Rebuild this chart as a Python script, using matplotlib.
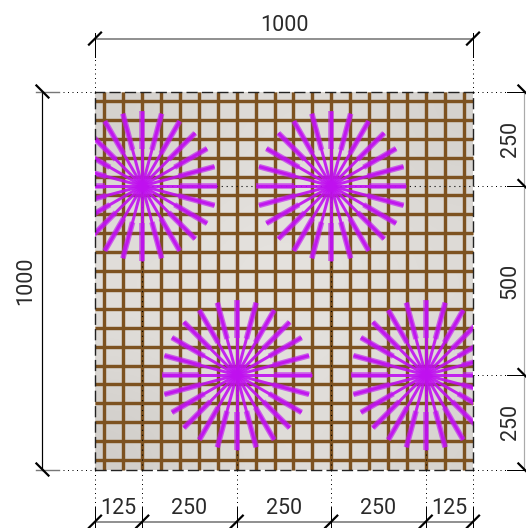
import numpy as np
import matplotlib
matplotlib.use("Agg")
import matplotlib.pyplot as plt

W, H = 526, 528
SCALE = 378 / 1000
X0, Y0 = 95, 469.5

side = 1000
bar_positions = [25 + 50 * i for i in range(20)]
star_x = [125, 625, 375, 875]
star_y = [750, 750, 250, 250]
ray_angles = [15 * i for i in range(24)]
ray_length = 198
x_chain = [0, 125, 375, 625, 875, 1000]
x_labels = ["125", "250", "250", "250", "125"]
y_chain = [0, 250, 750, 1000]
y_labels = ["250", "500", "250"]
background = [[212, 222, 224, 212],
              [224, 229, 229, 222],
              [226, 229, 229, 222],
              [208, 222, 224, 214]]

plt.rcParams["font.family"] = ["Roboto", "DejaVu Sans"]
fig = plt.figure(figsize=(W / 100, H / 100), dpi=100)
ax = fig.add_axes([0, 0, 1, 1])
ax.axis("off")
lw = 72 / 100

bg = np.array(background, float)
bg_rgb = np.dstack([bg / 255, (bg - 3) / 255, (bg - 7) / 255])
ax.imshow(bg_rgb, extent=[0, side, 0, side], origin="upper",
          interpolation="bicubic", aspect="auto", zorder=1)
ax.set_xlim(-X0 / SCALE, (W - X0) / SCALE)
ax.set_ylim(-(H - Y0) / SCALE, Y0 / SCALE)

brown = "#7d5220"
for p in bar_positions:
    for a, b in (([p, p], [0, side]), ([0, side], [p, p])):
        ax.plot(a, b, color=brown, alpha=0.2, lw=5 * lw, solid_capstyle="butt", zorder=2)
        ax.plot(a, b, color=brown, lw=3 * lw, solid_capstyle="butt", zorder=2.1)

# dotted centre lines, below the rays
dot = (0, (1, 3.5))
for x, y in zip(star_x, star_y):
    ax.plot([x, x], [0, y], color="k", lw=1.1 * lw, ls=dot, zorder=2.5)
ax.plot([star_x[0], side], [star_y[0], star_y[0]], color="k", lw=1.1 * lw, ls=dot, zorder=2.5)

clip = plt.Rectangle((0, 0), side, side, transform=ax.transData)
for cx, cy in zip(star_x, star_y):
    for a in ray_angles:
        t = np.deg2rad(a)
        ex, ey = cx + ray_length * np.cos(t), cy + ray_length * np.sin(t)
        ox, oy = cx + 0.5 * ray_length * np.cos(t), cy + 0.5 * ray_length * np.sin(t)
        l1, = ax.plot([ox, ex], [oy, ey], color="#c020f0", alpha=0.68, lw=5.6 * lw,
                      solid_capstyle="butt", zorder=3)
        l2, = ax.plot([cx, ex], [cy, ey], color="#c010f0", alpha=0.9, lw=3.0 * lw,
                      solid_capstyle="butt", zorder=4)
        l1.set_clip_path(clip)
        l2.set_clip_path(clip)

ax.plot([0, side, side, 0, 0], [0, 0, side, side, 0], color="#222222", lw=1.4 * lw,
        ls=(0, (8, 3)), zorder=5)

grey = "#777777"
text_color = "#2a2a2a"
fs = 15.5
weight = "normal"
# top dimension
top_y = side + 140
ax.plot([0, side], [top_y, top_y], color=grey, lw=1.6 * lw, zorder=6)
for x in (0, side):
    ax.plot([x, x], [side, top_y + 16], color="k", lw=lw, ls=dot, zorder=6)
    ax.plot([x, x], [top_y - 50, top_y + 16], color="k", lw=lw, zorder=6)
    ax.plot([x - 16, x + 16], [top_y - 16, top_y + 16], color="k", lw=2.2 * lw, zorder=7)
ax.text(side / 2, top_y + 6, "1000", ha="center", va="bottom", fontsize=fs,
        fontweight=weight, color=text_color)

# left dimension
left_x = -139
ax.plot([left_x, left_x], [0, side], color="k", lw=1.2 * lw, zorder=6)
for y in (0, side):
    ax.plot([left_x - 16, 0], [y, y], color="k", lw=lw, ls=dot, zorder=6)
    ax.plot([left_x - 16, -95], [y, y], color=grey, lw=1.4 * lw, zorder=6)
    ax.plot([left_x - 16, left_x + 16], [y + 16, y - 16], color="k", lw=2.2 * lw, zorder=7)
ax.text(left_x - 45, side / 2, "1000", rotation=90, ha="center", va="center",
        fontsize=fs, fontweight=weight, color=text_color)

# right dimension
right_x = 1136
ax.plot([right_x, right_x], [0, side], color="#aaaaaa", lw=1.2 * lw, zorder=6)
for y in y_chain:
    ax.plot([side, right_x + 16], [y, y], color="k", lw=lw, ls=dot, zorder=6)
    ax.plot([right_x - 45, right_x + 16], [y, y], color="k", lw=lw, zorder=6)
    ax.plot([right_x - 16, right_x + 16], [y + 16, y - 16], color="k", lw=2.2 * lw, zorder=7)
for a, b, s in zip(y_chain[:-1], y_chain[1:], y_labels):
    ax.text(right_x - 38, (a + b) / 2, s, rotation=90, ha="center", va="center",
            fontsize=fs, fontweight=weight, color=text_color)

# bottom dimension
bot_y = -138
ax.plot([0, side], [bot_y, bot_y], color=grey, lw=1.6 * lw, zorder=6)
for x in x_chain:
    ax.plot([x, x], [0, bot_y - 16], color="k", lw=lw, ls=dot, zorder=6)
    ax.plot([x, x], [bot_y + 40, bot_y - 16], color="k", lw=lw, zorder=6)
    ax.plot([x - 16, x + 16], [bot_y - 16, bot_y + 16], color="k", lw=2.2 * lw, zorder=7)
for a, b, s in zip(x_chain[:-1], x_chain[1:], x_labels):
    ax.text((a + b) / 2, bot_y + 8, s, ha="center", va="bottom", fontsize=fs,
            fontweight=weight, color=text_color)

fig.savefig("out.png", dpi=100)
